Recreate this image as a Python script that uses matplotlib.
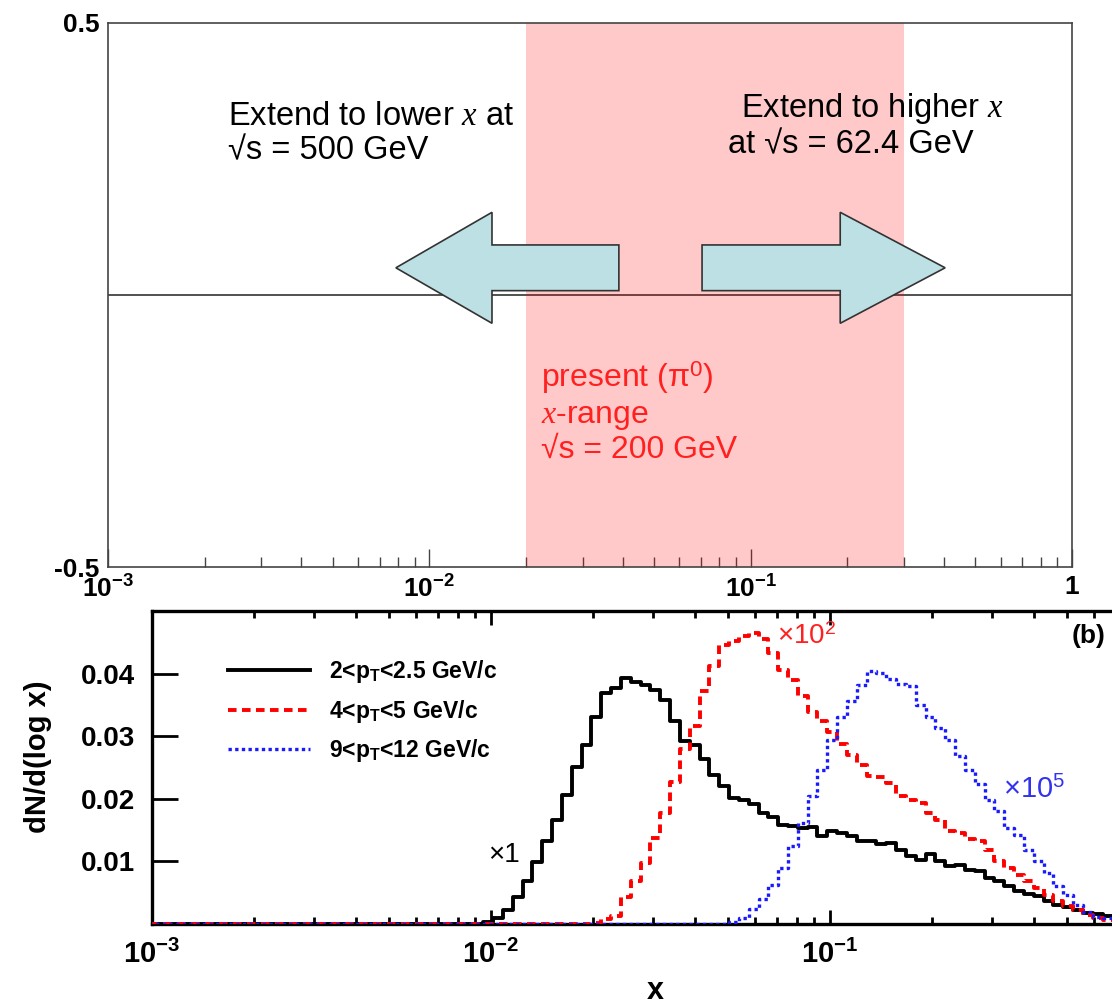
import numpy as np
import matplotlib
matplotlib.use('Agg')
import matplotlib.pyplot as plt
from matplotlib.ticker import LogLocator, NullFormatter

plt.rcParams['font.family'] = ['Liberation Sans', 'DejaVu Sans']
plt.rcParams['mathtext.fontset'] = 'custom'
plt.rcParams['mathtext.rm'] = 'Liberation Sans'
plt.rcParams['mathtext.it'] = 'Liberation Serif:italic'
plt.rcParams['mathtext.bf'] = 'Liberation Sans:bold'

# ---------------- data ----------------
# top panel: x-ranges
band_lo, band_hi = 0.02, 0.30
arrow_y, body_half, head_half = 0.05, 0.042, 0.102
left_arrow = dict(tip=0.00787, base=0.01567, tail=0.0389)
right_arrow = dict(tip=0.403, base=0.190, tail=0.0706)

top_xticks = [1e-3, 1e-2, 1e-1, 1]
top_xlabels = [r'$\mathbf{10^{-3}}$', r'$\mathbf{10^{-2}}$', r'$\mathbf{10^{-1}}$', r'$\mathbf{1}$']

# bottom panel: histograms on a log10 grid
BIN_START = -3.0085
BIN_WIDTH = 0.029
N_BINS = 98

black_first = 34
black_vals = [0.0003, 0.0009, 0.0022, 0.0043, 0.0069, 0.0099, 0.0132, 0.0166, 0.0206, 0.0251,
              0.0286, 0.0331, 0.0369, 0.0377, 0.0393, 0.0386, 0.0382, 0.0374, 0.0358, 0.0324,
              0.0292, 0.0286, 0.0264, 0.0238, 0.0220, 0.0201, 0.0198, 0.0192, 0.0177, 0.0171,
              0.0158, 0.0156, 0.0153, 0.0155, 0.0141, 0.0149, 0.0146, 0.0141, 0.0133, 0.0132,
              0.0128, 0.0130, 0.0118, 0.0108, 0.0103, 0.0112, 0.0100, 0.0093, 0.0094, 0.0087,
              0.0085, 0.0073, 0.0069, 0.0060, 0.0053, 0.0048, 0.0044, 0.0036, 0.0030, 0.0027,
              0.0022, 0.0018, 0.0016, 0.0013]
red_first = 45
red_vals = [0.0002, 0.0008, 0.0013, 0.0043, 0.0068, 0.0098, 0.0137, 0.0177, 0.0227, 0.0280,
            0.0316, 0.0372, 0.0412, 0.0446, 0.0452, 0.0460, 0.0465, 0.0456, 0.0433, 0.0406,
            0.0390, 0.0364, 0.0338, 0.0324, 0.0306, 0.0288, 0.0270, 0.0254, 0.0236, 0.0235,
            0.0225, 0.0205, 0.0198, 0.0193, 0.0177, 0.0166, 0.0148, 0.0145, 0.0136, 0.0132,
            0.0118, 0.0100, 0.0089, 0.0078, 0.0068, 0.0057, 0.0046, 0.0036, 0.0029, 0.0022,
            0.0014, 0.0010, 0.0006]
blue_first = 59
blue_vals = [0.0004, 0.0009, 0.0024, 0.0040, 0.0062, 0.0089, 0.0124, 0.0162, 0.0204, 0.0246,
             0.0294, 0.0331, 0.0356, 0.0382, 0.0404, 0.0401, 0.0391, 0.0383, 0.0380, 0.0350,
             0.0331, 0.0313, 0.0294, 0.0269, 0.0246, 0.0224, 0.0198, 0.0180, 0.0153, 0.0142,
             0.0118, 0.0100, 0.0081, 0.0060, 0.0046, 0.0030, 0.0020, 0.0012, 0.0009]
series_labels = [r'2<p$_\mathbf{T}$<2.5 GeV/c', r'4<p$_\mathbf{T}$<5 GeV/c', r'9<p$_\mathbf{T}$<12 GeV/c']

bot_yticks = [0.01, 0.02, 0.03, 0.04]
bot_ylabels = ['0.01', '0.02', '0.03', '0.04']
bot_xticks = [1e-3, 1e-2, 1e-1]
bot_xlabels = [r'$\mathbf{10^{-3}}$', r'$\mathbf{10^{-2}}$', r'$\mathbf{10^{-1}}$']

# ---------------- figure ----------------
fig = plt.figure(figsize=(11.12, 10.07), dpi=100)
ax1 = fig.add_axes([0.0971, 0.4369, 0.8669, 0.5403])
ax2 = fig.add_axes([0.1367, 0.0824, 0.8633, 0.3108])

# top panel
ax1.set_xscale('log')
ax1.set_xlim(1e-3, 1)
ax1.set_ylim(-0.5, 0.5)
ax1.axhline(0, color='#333333', lw=1.2, zorder=1)
ax1.axvspan(band_lo, band_hi, color='red', alpha=0.21, lw=0, zorder=2)

def arrow_poly(a):
    xs = [a['tail'], a['base'], a['base'], a['tip'], a['base'], a['base'], a['tail']]
    ys = [arrow_y + body_half, arrow_y + body_half, arrow_y + head_half, arrow_y,
          arrow_y - head_half, arrow_y - body_half, arrow_y - body_half]
    return xs, ys

for a in (left_arrow, right_arrow):
    xs, ys = arrow_poly(a)
    ax1.fill(xs, ys, facecolor='#bce0e3', edgecolor='#333333', lw=1.2, zorder=4)

ax1.set_xticks(top_xticks, labels=top_xlabels)
ax1.xaxis.set_minor_locator(LogLocator(base=10, subs=np.arange(2, 10)))
ax1.xaxis.set_minor_formatter(NullFormatter())
ax1.tick_params(axis='x', which='major', direction='in', length=13, width=1, color='#444444',
                labelsize=19, pad=6)
ax1.tick_params(axis='x', which='minor', direction='in', length=7, width=1, color='#444444')
ax1.set_yticks([-0.5, 0.5], labels=['-0.5', '0.5'])
ax1.tick_params(axis='y', length=0, labelsize=19, pad=6)
for lab in ax1.get_yticklabels():
    lab.set_fontweight('bold')
for s in ax1.spines.values():
    s.set_color('#444444')
    s.set_linewidth(1.2)

ax1.text(0.1245, 0.857, 'Extend to lower $x$ at\n√s = 500 GeV', transform=ax1.transAxes,
         fontsize=23.5, va='top', ha='left', linespacing=1.15)
ax1.text(0.6566, 0.875, 'Extend to higher $x$', transform=ax1.transAxes,
         fontsize=23.5, va='top', ha='left')
ax1.text(0.6431, 0.805, 'at √s = 62.4 GeV', transform=ax1.transAxes,
         fontsize=23.5, va='top', ha='left')
ax1.text(0.449, 0.382, 'present ($\\mathrm{\\pi}^0$)\n$x$-range\n√s = 200 GeV', transform=ax1.transAxes,
         fontsize=23, va='top', ha='left', color='#ff2020', linespacing=1.15)

# bottom panel
edges = 10 ** (BIN_START + BIN_WIDTH * np.arange(N_BINS + 1))

def full_hist(first, vals):
    h = np.zeros(N_BINS)
    h[first:first + len(vals)] = vals
    return np.append(h, h[-1])

styles = [
    dict(color='black', lw=2.8, ls='-', zorder=3),
    dict(color='#ff0000', lw=2.8, ls=(0, (2.2, 1.4)), zorder=4),
    dict(color='#1a1aff', lw=2.4, ls=(0, (1, 1)), zorder=5),
]
handles = []
for (first, vals), st in zip([(black_first, black_vals), (red_first, red_vals), (blue_first, blue_vals)], styles):
    ln, = ax2.step(edges, full_hist(first, vals), where='post', color=st['color'], lw=st['lw'],
                   linestyle=st['ls'], zorder=st['zorder'])
    handles.append(ln)

ax2.set_xscale('log')
ax2.set_xlim(1e-3, 0.68)
ax2.set_ylim(0, 0.05)
ax2.set_xticks(bot_xticks, labels=bot_xlabels)
ax2.xaxis.set_minor_locator(LogLocator(base=10, subs=np.arange(2, 10)))
ax2.xaxis.set_minor_formatter(NullFormatter())
ax2.tick_params(axis='x', which='major', direction='in', length=10, width=2, top=True,
                labelsize=21, pad=11)
ax2.tick_params(axis='x', which='minor', direction='in', length=5, width=2, top=True)
ax2.set_yticks(bot_yticks, labels=bot_ylabels)
ax2.tick_params(axis='y', direction='in', length=19, width=2, labelsize=20, pad=12)
for lab in ax2.get_yticklabels():
    lab.set_fontweight('bold')
for s in ('left', 'bottom', 'top'):
    ax2.spines[s].set_linewidth(2.4)
ax2.spines['right'].set_visible(False)

ax2.set_ylabel('dN/d(log x)', fontsize=21, fontweight='bold')
ax2.yaxis.set_label_coords(-0.104, 0.534)
ax2.set_xlabel('x', fontsize=22, fontweight='bold')
ax2.xaxis.set_label_coords(0.524, -0.165)

ax2.legend(handles, series_labels, loc='upper left', bbox_to_anchor=(0.079, 0.85), frameon=False,
           prop={'weight': 'bold', 'size': 16.5}, handlelength=3.6, handletextpad=0.8,
           labelspacing=0.55, borderpad=0, borderaxespad=0)

ax2.text(0.993, 0.92, '(b)', transform=ax2.transAxes, fontsize=19, fontweight='bold',
         ha='right', va='center')
ax2.text(0.35, 0.22, '×1', transform=ax2.transAxes, fontsize=20, ha='left', va='center')
ax2.text(0.651, 0.917, '×10$^2$', transform=ax2.transAxes, fontsize=20, ha='left', va='center',
         color='#ff2020')
ax2.text(0.886, 0.428, '×10$^5$', transform=ax2.transAxes, fontsize=21, ha='left', va='center',
         color='#3333ee')

fig.savefig('out.png', dpi=100)
